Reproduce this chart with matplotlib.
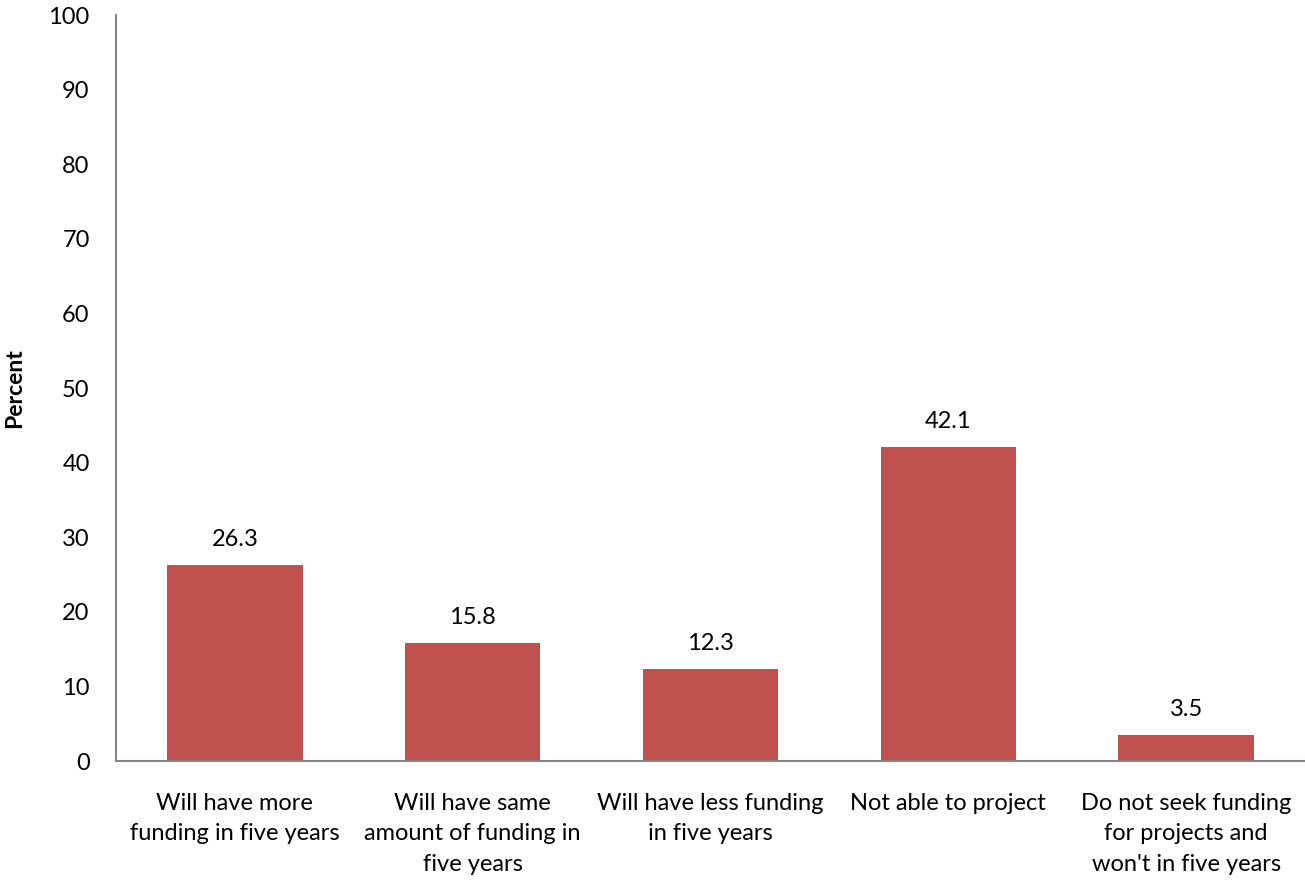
import matplotlib
matplotlib.use("Agg")
import matplotlib.pyplot as plt

categories = [
    "Will have more\nfunding in five years",
    "Will have same\namount of funding in\nfive years",
    "Will have less funding\nin five years",
    "Not able to project",
    "Do not seek funding\nfor projects and\nwon't in five years",
]
percent = [26.3, 15.8, 12.3, 42.1, 3.5]
yticks = [0, 10, 20, 30, 40, 50, 60, 70, 80, 90, 100]

plt.rcParams["font.family"] = ["Lato", "DejaVu Sans"]

fig = plt.figure(figsize=(13.05, 8.84), dpi=100)
ax = fig.add_axes([0.0889, 0.139, 0.9111, 0.844])

bar_color = "#C0504D"
axis_color = "#868686"
fs = 17

x = list(range(len(categories)))
ax.bar(x, percent, width=0.57, color=bar_color)

for xi, v in zip(x, percent):
    ax.annotate(f"{v:.1f}", xy=(xi, v), xytext=(0, 11), textcoords="offset points",
                ha="center", va="bottom", fontsize=fs, color="black")

ax.set_xlim(-0.5, len(categories) - 0.5)
ax.set_ylim(0, 100)
ax.set_yticks(yticks)
ax.set_yticklabels([str(t) for t in yticks], fontsize=fs)
ax.set_xticks(x)
ax.set_xticklabels(categories, fontsize=fs, linespacing=1.55, va="top")
ax.tick_params(axis="y", length=0, pad=19)
ax.tick_params(axis="x", length=0, pad=23)

for side in ["top", "right"]:
    ax.spines[side].set_visible(False)
for side in ["left", "bottom"]:
    ax.spines[side].set_color(axis_color)
    ax.spines[side].set_linewidth(1.5)

fig.text(15 / 1305, 1 - 388 / 884, "Percent", rotation=90, ha="center", va="center",
         fontsize=16.5, fontweight="bold")

fig.savefig("out.png", dpi=100)
